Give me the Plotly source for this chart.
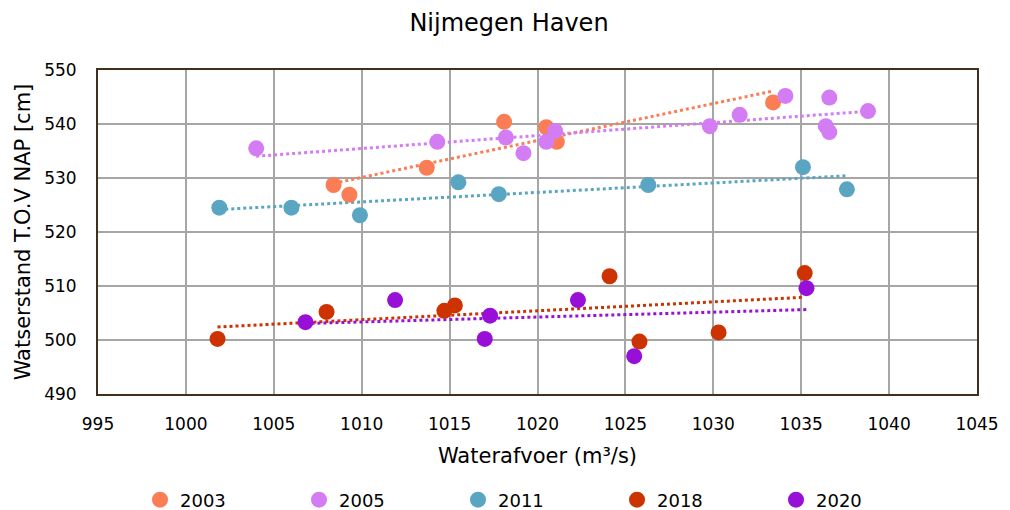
import numpy as np
import plotly.graph_objects as go

years = ["2003", "2005", "2011", "2018", "2020"]
colors = ["#FA7D55", "#D47CF3", "#5AA6C2", "#CC3300", "#9810D8"]

x2003 = [1008.4, 1009.3, 1013.7, 1018.1, 1020.5, 1021.1, 1033.4]
y2003 = [528.7, 526.9, 531.9, 540.4, 539.4, 536.7, 544.0]

x2005 = [1004.0, 1014.3, 1018.2, 1019.2, 1020.5, 1021.0, 1029.8, 1031.5, 1034.1, 1036.4, 1036.6, 1036.6, 1038.8]
y2005 = [535.5, 536.7, 537.5, 534.6, 536.7, 538.7, 539.6, 541.7, 545.2, 539.6, 538.5, 544.9, 542.4]

x2011 = [1001.9, 1006.0, 1009.9, 1015.5, 1017.8, 1026.3, 1035.1, 1037.6]
y2011 = [524.5, 524.5, 523.1, 529.2, 527.0, 528.7, 532.0, 527.9]

x2018 = [1001.8, 1008.0, 1014.7, 1015.3, 1024.1, 1025.8, 1030.3, 1035.2]
y2018 = [500.2, 505.2, 505.4, 506.4, 511.8, 499.7, 501.4, 512.4]

x2020 = [1006.8, 1011.9, 1017.0, 1017.3, 1022.3, 1025.5, 1035.3]
y2020 = [503.3, 507.4, 500.2, 504.5, 507.4, 497.0, 509.6]

xs = [x2003, x2005, x2011, x2018, x2020]
ys = [y2003, y2005, y2011, y2018, y2020]

x_ticks = [995, 1000, 1005, 1010, 1015, 1020, 1025, 1030, 1035, 1040, 1045]
y_ticks = [490, 500, 510, 520, 530, 540, 550]

FONT = "DejaVu Sans"
W, H = 1002, 502
fig = go.Figure()

for name, c, x, y in zip(years, colors, xs, ys):
    x = np.array(x)
    y = np.array(y)
    k, b = np.polyfit(x, y, 1)
    xl = np.array([x.min(), x.max()])
    fig.add_trace(go.Scatter(x=xl, y=k * xl + b, mode="lines",
                             line=dict(color=c, width=3, dash="dot"),
                             showlegend=False, hoverinfo="skip"))

for name, c, x, y in zip(years, colors, xs, ys):
    fig.add_trace(go.Scatter(x=x, y=y, mode="markers", name=name,
                             marker=dict(color=c, size=16, line=dict(width=0))))

axis_common = dict(
    showgrid=True, gridcolor="#A6A6A6", gridwidth=1.5,
    showline=True, linecolor="#3F3020", linewidth=2, mirror=True,
    zeroline=False, ticks="", automargin=False,
    tickfont=dict(family=FONT, size=17, color="#000000"),
)

fig.update_layout(
    width=W, height=H,
    paper_bgcolor="white", plot_bgcolor="white",
    margin=dict(l=90, r=33, t=62, b=116),
    title=dict(text="Nijmegen Haven", x=0.5, xanchor="center", yref="container",
               y=1 - 15 / H, yanchor="middle",
               font=dict(family=FONT, size=24, color="#000000")),
    xaxis=dict(range=[995, 1045], tickvals=x_ticks, ticktext=[str(v) for v in x_ticks],
               ticklabelstandoff=14,
               title=dict(text="Waterafvoer (m³/s)", font=dict(family=FONT, size=21, color="#000000"), standoff=15),
               **axis_common),
    yaxis=dict(range=[490, 550], tickvals=y_ticks, ticktext=[str(v) for v in y_ticks],
               ticklabelstandoff=16,
               title=dict(text="Watserstand T.O.V NAP [cm]", font=dict(family=FONT, size=21, color="#000000"), standoff=8),
               **axis_common),
    legend=dict(orientation="h", x=0.5, xanchor="center", yref="container", y=10 / H, yanchor="middle",
                font=dict(family=FONT, size=18, color="#000000"),
                itemwidth=30, entrywidth=114, entrywidthmode="pixels"),
    showlegend=True,
)

fig.write_html("out.html")
